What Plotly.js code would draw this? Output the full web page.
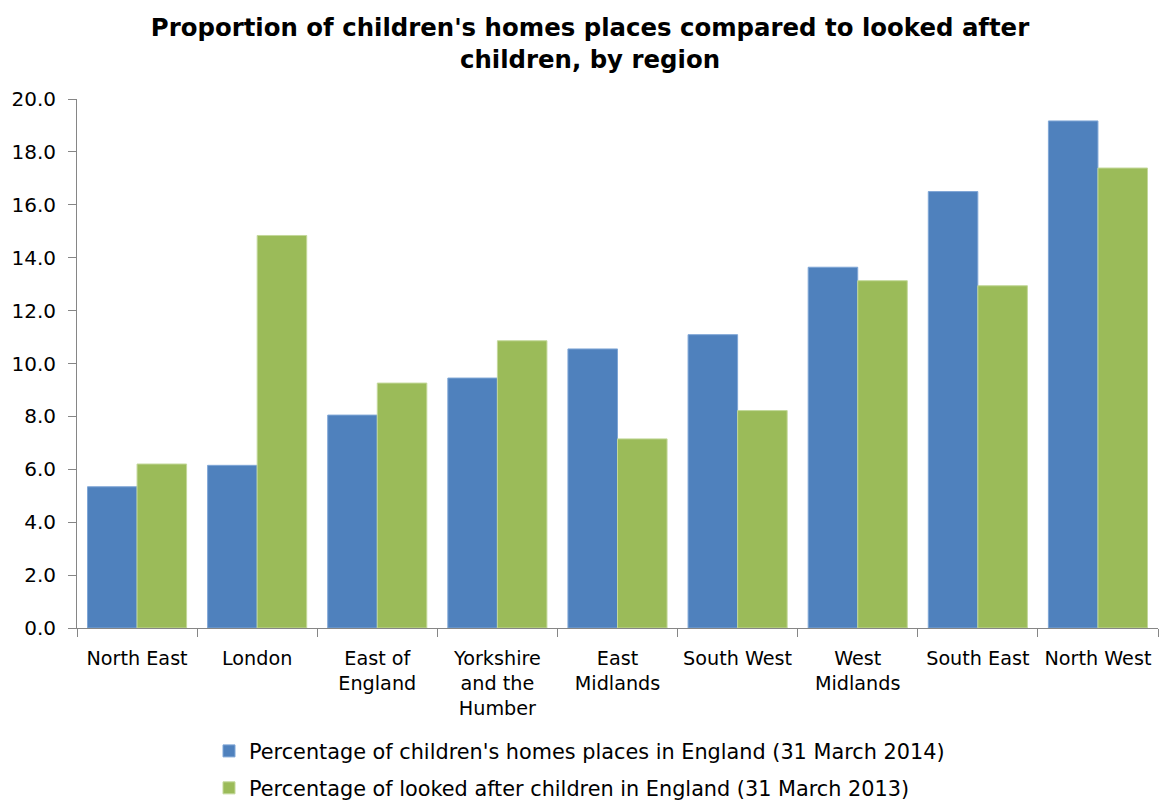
<!DOCTYPE html>
<html>
<head>
<meta charset="utf-8">
<script src="https://cdn.plot.ly/plotly-3.0.1.min.js"></script>
<style>html,body{margin:0;padding:0;background:#fff;}#chart{width:1160px;height:801px;}</style>
</head>
<body>
<div id="chart"></div>
<script>
const regions = ["North East", "London", "East of<br>England", "Yorkshire<br>and the<br>Humber", "East<br>Midlands", "South West", "West<br>Midlands", "South East", "North West"];
const homesPlaces2014 = [5.34, 6.15, 8.05, 9.45, 10.55, 11.09, 13.64, 16.50, 19.17];
const lookedAfter2013 = [6.20, 14.84, 9.26, 10.86, 7.15, 8.22, 13.13, 12.94, 17.39];
const yTicks = [0, 2, 4, 6, 8, 10, 12, 14, 16, 18, 20];

const font = "DejaVu Sans, Verdana, sans-serif";
const traces = [
  {type: "bar", name: "Percentage of children's homes places in England (31 March 2014)",
   x: regions, y: homesPlaces2014, marker: {color: "#4F81BD", line: {color: "#7FA6D6", width: 1}}, legend: "legend"},
  {type: "bar", name: "Percentage of looked after children in England (31 March 2013)",
   x: regions, y: lookedAfter2013, marker: {color: "#9BBB59", line: {color: "#C3D89A", width: 1}}, legend: "legend2"}
];
const plotBottom = 628.5, plotH = 801 - 99 - 172.5;
const legendBase = {orientation: "v", xanchor: "left", yanchor: "middle", bgcolor: "rgba(0,0,0,0)",
  font: {family: font, size: 20.8, color: "#000"}, itemwidth: 30};
const layout = {
  width: 1160, height: 801,
  margin: {l: 77, r: 2, t: 99, b: 172.5, autoexpand: false},
  paper_bgcolor: "#fff", plot_bgcolor: "#fff",
  title: {text: "Proportion of children's homes places compared to looked after<br>children, by region",
          font: {family: font, size: 24.4, color: "#000", weight: "bold"},
          xref: "container", x: 590 / 1160, xanchor: "center", yref: "container", y: 1 - 36/801, yanchor: "top"},
  barmode: "group", bargap: 0.175, bargroupgap: 0,
  xaxis: {type: "category", showline: true, linecolor: "#868686", linewidth: 1, ticks: "outside", tickson: "boundaries",
          ticklen: 8, tickcolor: "#868686", showgrid: false, ticklabelstandoff: 13, tickangle: 0,
          tickfont: {family: font, size: 19.2, color: "#000"}, automargin: false},
  yaxis: {range: [0, 20], tickvals: yTicks, tickformat: ".1f", showline: true, linecolor: "#868686", linewidth: 1,
          ticks: "outside", ticklen: 8, tickcolor: "#868686", showgrid: false, zeroline: false, ticklabelstandoff: 8,
          tickfont: {family: font, size: 20, color: "#000"}, automargin: false},
  showlegend: true,
  legend: Object.assign({}, legendBase, {x: (209 - 77) / 1081, y: -(752 - plotBottom) / plotH}),
  legend2: Object.assign({}, legendBase, {x: (209 - 77) / 1081, y: -(789 - plotBottom) / plotH})
};
Plotly.newPlot("chart", traces, layout, {displayModeBar: false, staticPlot: true});
</script>
</body>
</html>
